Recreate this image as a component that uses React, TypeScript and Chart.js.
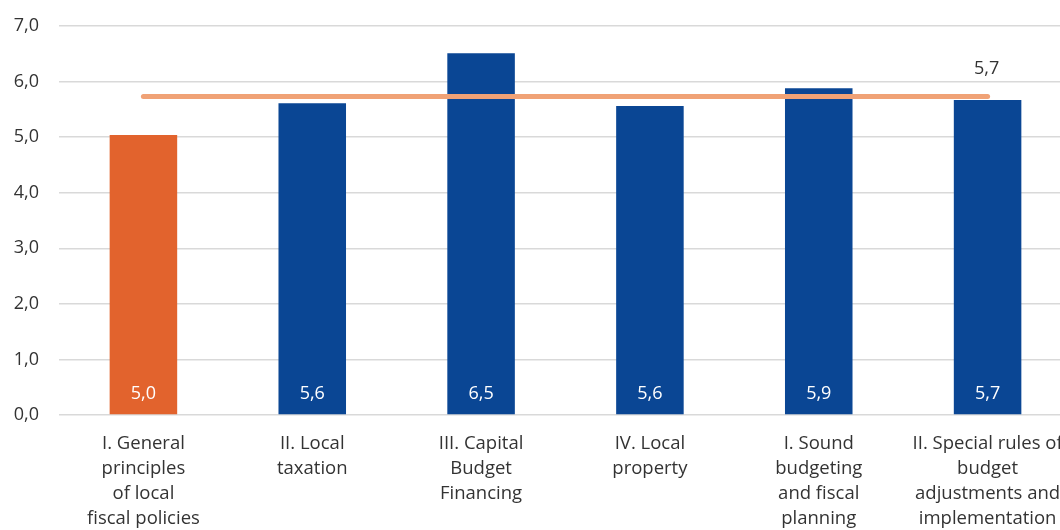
import React, { useEffect, useRef } from "react";
import { Chart, registerables } from "chart.js";

Chart.register(...registerables);

const categories: string[][] = [
  ["I. General", "principles", "of local", "fiscal policies"],
  ["II. Local", "taxation"],
  ["III. Capital", "Budget", "Financing"],
  ["IV. Local", "property"],
  ["I. Sound", "budgeting", "and fiscal", "planning"],
  ["II. Special rules of", "budget", "adjustments and", "implementation"],
];
const barValues = [5.04, 5.61, 6.51, 5.56, 5.88, 5.67];
const averageValues = [5.73, 5.73, 5.73, 5.73, 5.73, 5.73];
const barColors = ["#E2632D", "#0A4694", "#0A4694", "#0A4694", "#0A4694", "#0A4694"];

const fmt = (v: number) => v.toFixed(1).replace(".", ",");

const labelPlugin = {
  id: "valueLabels",
  afterDatasetsDraw(chart: any) {
    const ctx = chart.ctx;
    const yScale = chart.scales.y;
    ctx.save();
    ctx.textAlign = "center";
    ctx.textBaseline = "middle";
    const barMeta = chart.getDatasetMeta(0);
    ctx.font = "18px 'Open Sans'";
    ctx.fillStyle = "#ffffff";
    barMeta.data.forEach((el: any, i: number) => {
      ctx.fillText(fmt(barValues[i]), el.x, yScale.getPixelForValue(0) - 21);
    });
    const lineMeta = chart.getDatasetMeta(1);
    const last = lineMeta.data[lineMeta.data.length - 1];
    ctx.fillStyle = "#333333";
    ctx.fillText(fmt(averageValues[averageValues.length - 1]), last.x - 1, last.y - 28);
    ctx.restore();
  },
};

export default function App() {
  const ref = useRef<HTMLCanvasElement | null>(null);
  useEffect(() => {
    if (!ref.current) return;
    const chart = new Chart(ref.current, {
      type: "bar",
      data: {
        labels: categories,
        datasets: [
          {
            type: "bar",
            data: barValues,
            backgroundColor: barColors,
            barPercentage: 0.8,
            categoryPercentage: 0.5,
            order: 2,
          },
          {
            type: "line",
            data: averageValues,
            borderColor: "#F0A276",
            borderWidth: 5,
            borderCapStyle: "round",
            pointRadius: 0,
            fill: false,
            order: 1,
          } as any,
        ],
      },
      options: {
        animation: false,
        responsive: true,
        maintainAspectRatio: false,
        layout: { padding: { top: 26, left: 0, right: 0, bottom: 0 } },
        plugins: { legend: { display: false }, tooltip: { enabled: false } },
        scales: {
          x: {
            grid: { display: false, drawTicks: false },
            border: { display: false },
            ticks: {
              color: "#333333",
              font: { family: "'Open Sans'", size: 18.5, lineHeight: 1.35 },
              padding: 16,
              maxRotation: 0,
              autoSkip: false,
            },
            afterFit: (s: any) => {
              s.height = 115;
              s.paddingLeft = 0;
              s.paddingRight = 0;
            },
          },
          y: {
            min: 0,
            max: 7,
            ticks: {
              stepSize: 1,
              color: "#333333",
              font: { family: "'Open Sans'", size: 18 },
              padding: 20,
              callback: (v: any) => fmt(Number(v)),
            },
            grid: { color: "#D9D9D9", lineWidth: 1.5, drawTicks: false },
            border: { display: false },
            afterFit: (s: any) => {
              s.width = 59;
              s.paddingTop = 0;
              s.paddingBottom = 0;
            },
          },
        },
      },
      plugins: [labelPlugin],
    });
    return () => chart.destroy();
  }, []);
  return (
    <div style={{ position: "fixed", left: 0, top: 0, width: 1060, height: 530, overflow: "hidden", background: "#fff" }}>
      <div style={{ position: "absolute", left: 0, top: 0, width: 1072, height: 530 }}>
        <canvas ref={ref} />
      </div>
    </div>
  );
}
